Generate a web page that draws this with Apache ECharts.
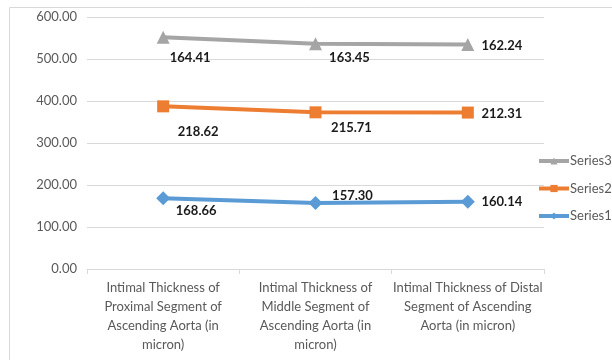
<!DOCTYPE html>
<html><head><meta charset="utf-8">
<script src="https://cdn.jsdelivr.net/npm/echarts@6/dist/echarts.min.js"></script>
<style>html,body{margin:0;padding:0;background:#fff}#c{width:612px;height:360px}</style>
</head><body><div id="c"></div>
<script>
const categories = [
  'Intimal Thickness of\nProximal Segment of\nAscending Aorta (in\nmicron)',
  'Intimal Thickness of\nMiddle Segment of\nAscending Aorta (in\nmicron)',
  'Intimal Thickness of Distal\nSegment of Ascending\nAorta (in micron)'
];
const series1 = [168.66, 157.30, 160.14];
const series2 = [218.62, 215.71, 212.31];
const series3 = [164.41, 163.45, 162.24];
const yTicks = [0, 100, 200, 300, 400, 500, 600];

const offs1 = [[33, 13], [37, -7], [34, 0]];
const offs2 = [[35, 25], [36, 15], [34, 1]];
const offs3 = [[27, 21], [34, 14], [34, 1]];

function mk(name, vals, color, symbol, size, offs) {
  return {
    name, type: 'line', stack: 'total', color,
    symbol, symbolSize: size,
    lineStyle: { width: 4, color },
    itemStyle: { color },
    emphasis: { disabled: true },
    data: vals.map((v, i) => ({
      value: v,
      label: { show: true, position: 'inside', offset: offs[i],
        formatter: () => v.toFixed(2),
        fontFamily: 'Lato', fontWeight: 'bold', fontSize: 13, color: '#1a1a1a' }
    }))
  };
}

const chart = echarts.init(document.getElementById('c'), null, { renderer: 'canvas' });
chart.setOption({
  animation: false,
  backgroundColor: '#fff',
  graphic: [{ type: 'rect', shape: { x: 9.5, y: 7.5, width: 700, height: 400 },
    style: { fill: 'none', stroke: '#d9d9d9', lineWidth: 1 }, silent: true }],
  grid: { left: 87, right: 68, top: 17, bottom: 91, containLabel: false },
  legend: {
    orient: 'vertical', left: 532, top: 149,
    data: ['Series3', 'Series2', 'Series1'],
    itemWidth: 30, itemHeight: 9, itemGap: 13.5,
    lineStyle: { width: 4 },
    textStyle: { fontFamily: 'Lato', fontSize: 13, color: '#595959', lineHeight: 14, padding: [0, 0, 0, -4] }
  },
  xAxis: {
    type: 'category', data: categories, boundaryGap: true,
    axisLine: { lineStyle: { color: '#d9d9d9', width: 1 } },
    axisTick: { show: true, length: 5, lineStyle: { color: '#d9d9d9' } },
    axisLabel: { fontFamily: 'Lato', fontSize: 13, color: '#595959', lineHeight: 19, margin: 9, interval: 0 }
  },
  yAxis: {
    type: 'value', min: yTicks[0], max: yTicks[yTicks.length - 1], interval: 100,
    axisLine: { show: false }, axisTick: { show: false },
    splitLine: { lineStyle: { color: '#d9d9d9', width: 1 } },
    axisLabel: { fontFamily: 'Lato', fontSize: 13, color: '#595959', margin: 10,
      formatter: v => v.toFixed(2) }
  },
  series: [
    mk('Series1', series1, '#5B9BD5', 'diamond', 14, offs1),
    mk('Series2', series2, '#ED7D31', 'rect', 12, offs2),
    mk('Series3', series3, '#A5A5A5', 'triangle', 13, offs3)
  ]
});
</script></body></html>
